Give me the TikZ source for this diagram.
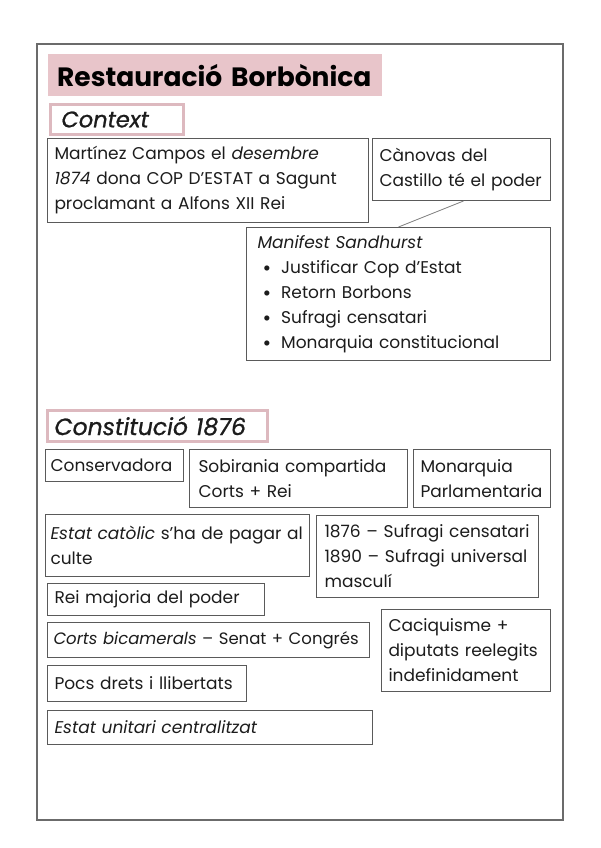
\documentclass[tikz,border=0pt]{standalone}
\usepackage{fontspec}
\setmainfont{Poppins}
\newfontfamily\headfont[FakeBold=0.9]{Poppins}
\definecolor{pinkfill}{HTML}{E8C5CA}
\definecolor{pinkline}{HTML}{DDB9BF}
\definecolor{boxline}{HTML}{5A5A5A}
\definecolor{txt}{HTML}{1C1C1C}
\newcommand{\bigbul}{\raisebox{-2pt}{\fontsize{21}{25}\selectfont\textbullet}}
\tikzset{
  box/.style={draw=boxline, line width=1pt, anchor=north west, inner xsep=7pt, inner ysep=3pt,
    align=left, text=txt, font=\fontsize{17}{25}\selectfont},
  headbox/.style={draw=pinkline, line width=3pt, fill=white, anchor=north west, inner xsep=6pt, text=txt}
}
\begin{document}
\begin{tikzpicture}[x=1pt,y=-1pt]
\useasboundingbox (0,0) rectangle (600,848);
\fill[white] (0,0) rectangle (600,848);
\draw[boxline!90, line width=1.5pt] (37,44) rectangle (563,820);
% title
\node[fill=pinkfill, anchor=north west, minimum width=334pt, minimum height=42pt, inner xsep=9pt, align=left, text=black, font=\fontsize{26.5}{30}\selectfont\bfseries, text width=316pt] (title) at (48,54) {Restauració Borbònica};
\node[headbox, minimum width=133pt, minimum height=30pt, inner xsep=11pt, text width=111pt, font=\headfont\fontsize{22.5}{24}\selectfont\itshape] (context) at (49,103) {Context};
% context boxes
\node[box, minimum width=321pt, minimum height=84pt, text width=307pt] (campos) at (47,138) {Martínez Campos el \textit{desembre}\\\textit{1874} dona COP D’ESTAT a Sagunt\\proclamant a Alfons XII Rei};
\node[box, minimum width=178pt, minimum height=62pt, text width=164pt] (canovas) at (372,138) {Cànovas del\\Castillo té el poder};
\node[box, minimum width=304pt, minimum height=133pt, inner xsep=11pt, text width=282pt] (manifest) at (246,227) {\textit{Manifest Sandhurst}\\
\hspace*{5pt}\bigbul\hspace{10pt}Justificar Cop d’Estat\\
\hspace*{5pt}\bigbul\hspace{10pt}Retorn Borbons\\
\hspace*{5pt}\bigbul\hspace{10pt}Sufragi censatari\\
\hspace*{5pt}\bigbul\hspace{10pt}Monarquia constitucional};
\draw[boxline!80, line width=0.8pt] ([xshift=2pt]canovas.south) -- ([xshift=0pt]manifest.north);
% constitucio
\node[headbox, minimum width=220pt, minimum height=31pt, inner xsep=7pt, text width=206pt, font=\headfont\fontsize{23.5}{25}\selectfont\itshape] (const) at (46,409) {Constitució 1876};
\node[box, minimum width=138pt, minimum height=32pt, inner xsep=5pt, text width=128pt] (cons) at (45,449) {Conservadora};
\node[box, minimum width=216pt, minimum height=58pt, text width=200pt, inner xsep=9pt] (sob) at (189,449) {Sobirania compartida\\Corts + Rei};
\node[box, minimum width=137pt, minimum height=58pt, text width=123pt] (mon) at (413,449) {Monarquia\\Parlamentaria};
\node[box, minimum width=264pt, minimum height=62pt, inner xsep=5pt, text width=254pt] (cat) at (45,514) {\textit{Estat catòlic} s’ha de pagar al\\culte};
\node[box, minimum width=222pt, minimum height=82pt, inner xsep=8pt, text width=206pt] (suf) at (316,515) {1876 – Sufragi censatari\\1890 – Sufragi universal\\masculí};
\node[box, minimum width=217pt, minimum height=32pt, text width=203pt] (rei) at (47,583) {Rei majoria del poder};
\node[box, minimum width=322pt, minimum height=35pt, inner xsep=6pt, text width=310pt, font=\fontsize{16.5}{25}\selectfont] (corts) at (47,622) {\textit{Corts bicamerals} – Senat + Congrés};
\node[box, minimum width=169pt, minimum height=82pt, text width=155pt] (cac) at (381,609) {Caciquisme +\\diputats reelegits\\indefinidament};
\node[box, minimum width=199pt, minimum height=36pt, text width=185pt] (pocs) at (47,665) {Pocs drets i llibertats};
\node[box, minimum width=325pt, minimum height=34pt, text width=311pt] (unit) at (47,710) {\textit{Estat unitari centralitzat}};
\end{tikzpicture}
\end{document}
